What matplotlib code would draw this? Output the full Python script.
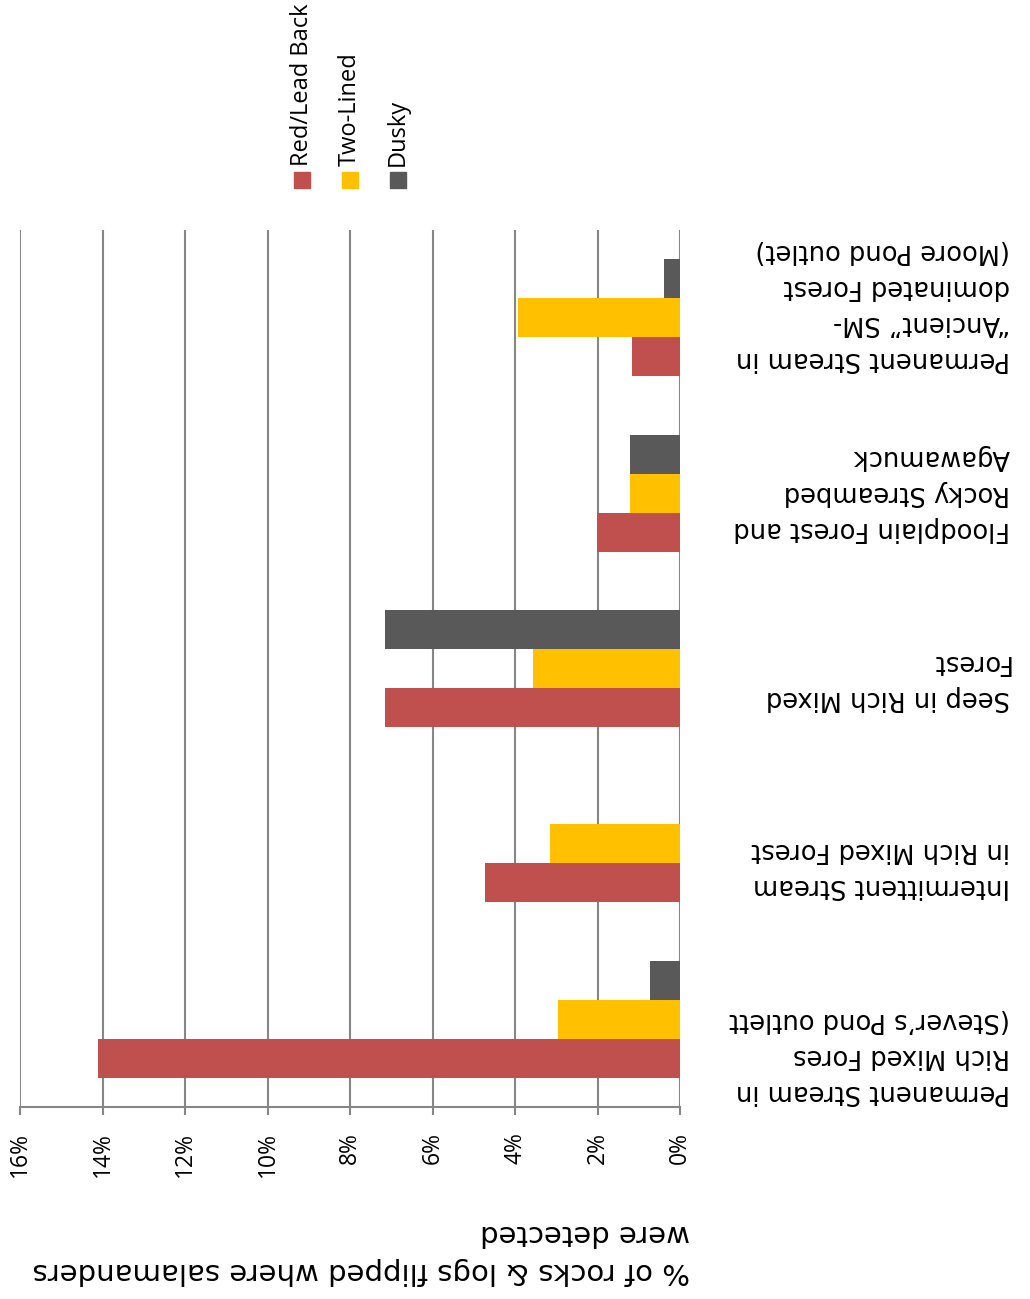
import matplotlib
matplotlib.use("Agg")
import matplotlib.pyplot as plt
from matplotlib.patches import Rectangle
from matplotlib.transforms import blended_transform_factory
import numpy as np

categories = [
    "Permanent Stream in\nRich Mixed Fores\n(Stever\u2019s Pond outlett",
    "Intermittent Stream\nin Rich Mixed Forest",
    "Seep in Rich Mixed\nForest",
    "Floodplain Forest and\nRocky Streambed\nAgawamuck",
    "Permanent Stream in\n\u201cAncient\u201d SM-\ndominated Forest\n(Moore Pond outlet)",
]
series_names = ["Red/Lead Back", "Two-Lined", "Dusky"]
red_lead_back = [14.1, 4.73, 7.15, 2.01, 1.16]
two_lined = [2.96, 3.15, 3.56, 1.21, 3.93]
dusky = [0.73, 0.0, 7.15, 1.21, 0.39]
tick_values = [0, 2, 4, 6, 8, 10, 12, 14, 16]
tick_labels = ["0%", "2%", "4%", "6%", "8%", "10%", "12%", "14%", "16%"]
axis_label = "% of rocks & logs flipped where salamanders\nwere detected"

colors = ["#C0504D", "#FFC000", "#595959"]

W, H = 1030, 1299
fig = plt.figure(figsize=(W / 100, H / 100), dpi=100)
ax = fig.add_axes([20 / W, (H - 1107) / H, 660 / W, (1107 - 230) / H])

y = np.arange(len(categories))
h = 0.222
for vals, off, c in zip([red_lead_back, two_lined, dusky], [-h, 0, h], colors):
    ax.barh(y + off, vals, height=h, color=c, zorder=3)

ax.set_xlim(16, 0)
ax.set_ylim(-0.5, len(categories) - 0.5)
ax.set_xticks(tick_values)
ax.set_xticklabels(tick_labels, rotation=90, fontsize=16.5, family="Open Sans")
ax.set_yticks([])
ax.grid(axis="x", color="#868686", lw=1.5, zorder=1)
for s in ["top", "left", "right"]:
    ax.spines[s].set_visible(False)
ax.spines["bottom"].set_color("#868686")
ax.spines["bottom"].set_linewidth(1.5)
ax.tick_params(axis="x", direction="out", length=6, width=1.5, color="#868686", pad=12)

# category labels (upside-down), label block spacing slightly wider than bar groups
trans = blended_transform_factory(fig.transFigure, ax.transData)
n = len(categories)
for i, lab in enumerate(categories):
    k = n - 1 - i
    ax.text(1010 / W, i + 0.074 - 0.0706 * k,
            lab, transform=trans, rotation=180, ha="right", va="center",
            multialignment="left", fontsize=18.5, family="DejaVu Sans",
            linespacing=1.5)

# axis title (upside-down)
fig.text(690 / W, 1 - 1252 / H, axis_label, rotation=180, ha="right", va="center",
         multialignment="left", fontsize=21, family="DejaVu Sans", linespacing=1.45)

# legend
leg_x = [302, 350, 398]
for name, c, lx in zip(series_names, colors, leg_x):
    fig.patches.append(Rectangle(((lx - 8) / W, 1 - 188 / H), 16 / W, 16 / H,
                                 transform=fig.transFigure, color=c, figure=fig))
    fig.text(lx / W, 1 - 166 / H, name, rotation=90, ha="center", va="bottom",
             fontsize=17, family="Open Sans")

fig.savefig("out.png", dpi=100)
